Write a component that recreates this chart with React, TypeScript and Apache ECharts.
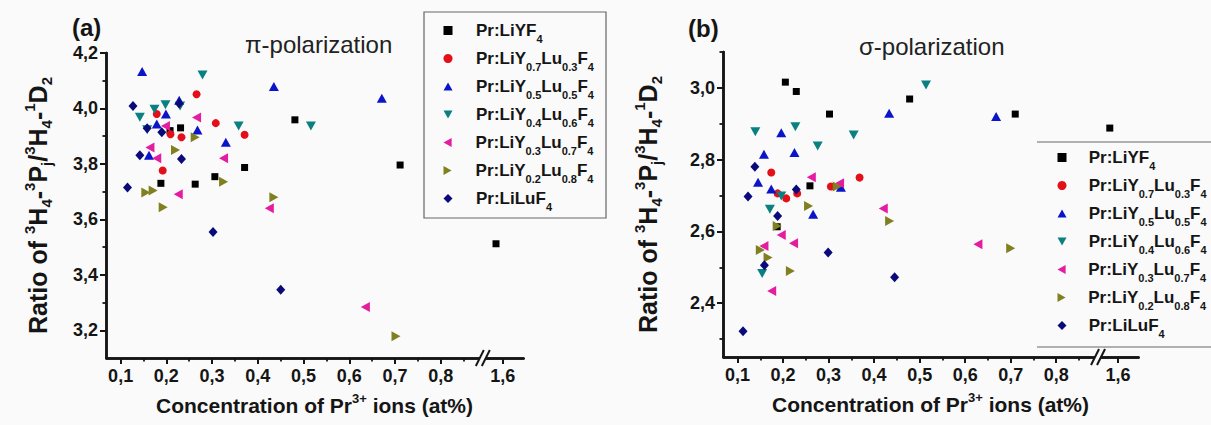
import React, { useEffect, useRef } from "react";
import * as echarts from "echarts";

// ---------- data ----------
const seriesNames = [
  "Pr:LiYF4",
  "Pr:LiY0.7Lu0.3F4",
  "Pr:LiY0.5Lu0.5F4",
  "Pr:LiY0.4Lu0.6F4",
  "Pr:LiY0.3Lu0.7F4",
  "Pr:LiY0.2Lu0.8F4",
  "Pr:LiLuF4",
];

// (a) pi-polarization  [concentration at%, ratio]
const piLiYF4 = [[0.188, 3.73], [0.208, 3.92], [0.231, 3.93], [0.263, 3.727], [0.306, 3.754], [0.371, 3.787], [0.481, 3.959], [0.711, 3.796], [1.585, 3.512]];
const piY07 = [[0.179, 3.98], [0.192, 3.776], [0.209, 3.907], [0.233, 3.896], [0.266, 4.051], [0.308, 3.947], [0.371, 3.905]];
const piY05 = [[0.147, 4.133], [0.162, 3.831], [0.179, 3.944], [0.199, 3.98], [0.228, 4.03], [0.268, 3.922], [0.33, 3.878], [0.435, 4.079], [0.671, 4.037]];
const piY04 = [[0.142, 3.968], [0.158, 3.923], [0.174, 3.997], [0.198, 4.013], [0.23, 4.009], [0.279, 4.121], [0.358, 3.937], [0.516, 3.937]];
const piY03 = [[0.164, 3.859], [0.179, 3.82], [0.198, 3.937], [0.226, 3.691], [0.266, 3.967], [0.325, 3.82], [0.425, 3.64], [0.635, 3.284]];
const piY02 = [[0.155, 3.697], [0.171, 3.704], [0.193, 3.644], [0.22, 3.85], [0.263, 3.896], [0.325, 3.736], [0.435, 3.68], [0.702, 3.178]];
const piLiLuF4 = [[0.115, 3.715], [0.127, 4.009], [0.142, 3.831], [0.158, 3.929], [0.19, 3.914], [0.228, 4.018], [0.233, 3.818], [0.302, 3.554], [0.45, 3.346]];

// (b) sigma-polarization
const sgLiYF4 = [[0.187, 2.613], [0.205, 3.016], [0.229, 2.99], [0.259, 2.727], [0.302, 2.927], [0.478, 2.969], [0.71, 2.927], [1.582, 2.888]];
const sgY07 = [[0.174, 2.764], [0.188, 2.706], [0.207, 2.692], [0.231, 2.706], [0.305, 2.725], [0.368, 2.75]];
const sgY05 = [[0.145, 2.737], [0.158, 2.815], [0.174, 2.718], [0.196, 2.875], [0.225, 2.82], [0.266, 2.648], [0.327, 2.723], [0.433, 2.929], [0.668, 2.92]];
const sgY04 = [[0.139, 2.878], [0.154, 2.483], [0.171, 2.662], [0.196, 2.699], [0.227, 2.892], [0.276, 2.838], [0.355, 2.869], [0.514, 3.008]];
const sgY03 = [[0.158, 2.559], [0.175, 2.434], [0.196, 2.59], [0.223, 2.567], [0.262, 2.751], [0.324, 2.734], [0.42, 2.664], [0.628, 2.564]];
const sgY02 = [[0.15, 2.548], [0.167, 2.527], [0.187, 2.615], [0.216, 2.49], [0.256, 2.671], [0.319, 2.725], [0.434, 2.629], [0.7, 2.553]];
const sgLiLuF4 = [[0.112, 2.322], [0.123, 2.697], [0.138, 2.78], [0.159, 2.506], [0.188, 2.643], [0.229, 2.717], [0.299, 2.541], [0.445, 2.472]];

const piData = [piLiYF4, piY07, piY05, piY04, piY03, piY02, piLiLuF4];
const sgData = [sgLiYF4, sgY07, sgY05, sgY04, sgY03, sgY02, sgLiLuF4];

const xTickValues = [0.1, 0.2, 0.3, 0.4, 0.5, 0.6, 0.7, 0.8, 1.6];
const xMinorValues = [0.15, 0.25, 0.35, 0.45, 0.55, 0.65, 0.75, 0.85];
const yTicksA = [3.2, 3.4, 3.6, 3.8, 4.0, 4.2];
const yMinorA = [3.3, 3.5, 3.7, 3.9, 4.1];
const yTicksB = [2.4, 2.6, 2.8, 3.0];
const yMinorB = [2.3, 2.5, 2.7, 2.9, 3.1];

const X_MIN = 0.068;
const X_MAX = 1.644;
const BREAK_START = 0.885;
const BREAK_END = 1.563;

// ---------- styles ----------
const FONT = "'Liberation Sans', Arial, Helvetica, sans-serif";
const INK = "#151515";
const colors = ["#000000", "#e3101a", "#0a14c8", "#0a8080", "#e41ca0", "#808020", "#0a0a7a"];
const symbols = [
  { symbol: "rect", size: 7 },
  { symbol: "circle", size: 8 },
  { symbol: "path://M5,0L10,9L0,9Z", size: [10, 9] },
  { symbol: "path://M0,0L10,0L5,9Z", size: [10, 9] },
  { symbol: "path://M9,0L9,10L0,5Z", size: [9, 10] },
  { symbol: "path://M0,0L0,10L9,5Z", size: [9, 10] },
  { symbol: "diamond", size: [9, 10] },
];

const legendMarkup: Record<string, string> = {
  "Pr:LiYF4": "{g| }{b|Pr:LiYF}{s|4}",
  "Pr:LiY0.7Lu0.3F4": "{g| }{b|Pr:LiY}{s|0.7}{b|Lu}{s|0.3}{b|F}{s|4}",
  "Pr:LiY0.5Lu0.5F4": "{g| }{b|Pr:LiY}{s|0.5}{b|Lu}{s|0.5}{b|F}{s|4}",
  "Pr:LiY0.4Lu0.6F4": "{g| }{b|Pr:LiY}{s|0.4}{b|Lu}{s|0.6}{b|F}{s|4}",
  "Pr:LiY0.3Lu0.7F4": "{g| }{b|Pr:LiY}{s|0.3}{b|Lu}{s|0.7}{b|F}{s|4}",
  "Pr:LiY0.2Lu0.8F4": "{g| }{b|Pr:LiY}{s|0.2}{b|Lu}{s|0.8}{b|F}{s|4}",
  "Pr:LiLuF4": "{g| }{b|Pr:LiLuF}{s|4}",
};

const yTitle = "{t|Ratio of }{sup|3}{t|H}{sub|4}{t|-}{sup|3}{t|P}{sub|j}{t|/}{sup|3}{t|H}{sub|4}{t|-}{sup|1}{t|D}{sub|2}";
const xTitle = "{t|Concentration of Pr}{sup|3+}{t| ions (at%)}";

const fmt = (v: number) => Number(v).toFixed(1).replace(".", ",");

function legendRich(gap: number) {
  return {
    g: { width: gap, lineHeight: 28 },
    b: { fontSize: 17, fontWeight: "bold", fontFamily: FONT, color: INK, lineHeight: 28 },
    s: { fontSize: 11, fontWeight: "bold", fontFamily: FONT, color: INK, lineHeight: 9, verticalAlign: "bottom" },
  };
}

// one legend component per row, so that the row pitch is exact
function makeLegends(left: number, firstTop: number, gap: number) {
  return seriesNames.map((n, i) => ({
    data: [n],
    orient: "vertical",
    left,
    top: firstTop + 28 * i,
    padding: 0,
    itemGap: 0,
    itemWidth: 9,
    itemHeight: 9,
    selectedMode: false,
    formatter: (name: string) => legendMarkup[name],
    textStyle: { rich: legendRich(gap) },
  }));
}

function makeXAxes(gridIndex: number) {
  const base: any = {
    type: "value",
    gridIndex,
    min: X_MIN,
    max: X_MAX,
    position: "bottom",
    breaks: [{ start: BREAK_START, end: BREAK_END, gap: "1.5%" }],
    breakArea: { show: false },
    splitLine: { show: false },
    axisLine: { show: true, onZero: false, lineStyle: { color: INK, width: 2.5 } },
  };
  return [
    {
      ...base,
      axisTick: { show: true, inside: false, length: 6, customValues: xTickValues, lineStyle: { color: INK, width: 2 } },
      axisLabel: {
        show: true,
        customValues: xTickValues,
        formatter: (v: number) => fmt(v),
        margin: 9,
        fontSize: 18,
        fontWeight: "bold",
        fontFamily: FONT,
        color: INK,
      },
      name: xTitle,
      nameLocation: "middle",
      nameGap: 34,
      nameTextStyle: {
        rich: {
          t: { fontSize: 21, fontWeight: "bold", fontFamily: FONT, color: INK, lineHeight: 26 },
          sup: { fontSize: 13, fontWeight: "bold", fontFamily: FONT, color: INK, lineHeight: 12, verticalAlign: "top" },
        },
      },
    },
    {
      ...base,
      axisTick: { show: true, inside: false, length: 3.5, customValues: xMinorValues, lineStyle: { color: INK, width: 1.8 } },
      axisLabel: { show: false },
    },
  ];
}

function makeYAxes(gridIndex: number, min: number, max: number, ticks: number[], minor: number[], gap: number) {
  const base: any = {
    type: "value",
    gridIndex,
    min,
    max,
    position: "left",
    splitLine: { show: false },
    axisLine: { show: true, onZero: false, lineStyle: { color: INK, width: 2.5 } },
  };
  return [
    {
      ...base,
      axisTick: { show: true, inside: false, length: 6, customValues: ticks, lineStyle: { color: INK, width: 2 } },
      axisLabel: {
        show: true,
        customValues: ticks,
        formatter: (v: number) => fmt(v),
        margin: 8,
        fontSize: 18,
        fontWeight: "bold",
        fontFamily: FONT,
        color: INK,
      },
      name: yTitle,
      nameLocation: "middle",
      nameRotate: 90,
      nameGap: gap,
      nameTextStyle: {
        rich: {
          t: { fontSize: 25, fontWeight: "bold", fontFamily: FONT, color: INK, lineHeight: 32 },
          sup: { fontSize: 15, fontWeight: "bold", fontFamily: FONT, color: INK, lineHeight: 12, verticalAlign: "top" },
          sub: { fontSize: 15, fontWeight: "bold", fontFamily: FONT, color: INK, lineHeight: 12, verticalAlign: "bottom" },
        },
      },
    },
    {
      ...base,
      axisTick: { show: true, inside: false, length: 3.5, customValues: minor, lineStyle: { color: INK, width: 1.8 } },
      axisLabel: { show: false },
    },
  ];
}

function makeSeries(data: number[][][], xAxisIndex: number, yAxisIndex: number) {
  return data.map((d, i) => ({
    type: "scatter",
    name: seriesNames[i],
    xAxisIndex,
    yAxisIndex,
    data: d,
    symbol: symbols[i].symbol,
    symbolSize: symbols[i].size,
    itemStyle: { color: colors[i], opacity: 1 },
    emphasis: { disabled: true },
  }));
}

export default function App() {
  const ref = useRef<HTMLDivElement>(null);

  useEffect(() => {
    if (!ref.current) return;
    const chart = echarts.init(ref.current, null, { renderer: "svg" });

    const option: any = {
      animation: false,
      backgroundColor: "#fafafa",
      textStyle: { fontFamily: FONT },
      grid: [
        { left: 106, top: 53, width: 417, height: 305, outerBoundsMode: "none", containLabel: false },
        { left: 723, top: 52, width: 415, height: 305, outerBoundsMode: "none", containLabel: false },
      ],
      xAxis: [...makeXAxes(0), ...makeXAxes(1)],
      yAxis: [
        ...makeYAxes(0, 3.1, 4.2, yTicksA, yMinorA, 52),
        ...makeYAxes(1, 2.25, 3.1, yTicksB, yMinorB, 59),
      ],
      legend: [...makeLegends(443.5, 22, 18.5), ...makeLegends(1057.5, 149, 17.2)],
      series: [...makeSeries(piData, 0, 0), ...makeSeries(sgData, 2, 2)],
    };
    chart.setOption(option);

    const breakMark = (xAxisIndex: number, yAxisIndex: number, yVal: number, id: string) => {
      const p1 = chart.convertToPixel({ xAxisIndex } as any, BREAK_START) as number;
      const p2 = chart.convertToPixel({ xAxisIndex } as any, BREAK_END) as number;
      const y = chart.convertToPixel({ yAxisIndex } as any, yVal) as number;
      const m = (p1 + p2) / 2;
      return [
        { id: id + "w", type: "rect", z: 100, shape: { x: m - 3, y: y - 2, width: 6, height: 4 }, style: { fill: "#fafafa" } },
        { id: id + "l1", type: "line", z: 101, shape: { x1: m - 7, y1: y + 8, x2: m + 1, y2: y - 8 }, style: { stroke: INK, lineWidth: 2 } },
        { id: id + "l2", type: "line", z: 101, shape: { x1: m - 1, y1: y + 8, x2: m + 7, y2: y - 8 }, style: { stroke: INK, lineWidth: 2 } },
      ];
    };

    const graphics: any[] = [
      { id: "boxA", type: "rect", z: 50, shape: { x: 424, y: 12, width: 182, height: 206 }, style: { fill: "none", stroke: "#666", lineWidth: 1.2 } },
      { id: "lineB1", type: "line", z: 50, shape: { x1: 1037, y1: 142, x2: 1211, y2: 142 }, style: { stroke: "#666", lineWidth: 1.2 } },
      { id: "lineB2", type: "line", z: 50, shape: { x1: 1037, y1: 347, x2: 1211, y2: 347 }, style: { stroke: "#666", lineWidth: 1.2 } },
      { id: "tA", type: "text", z: 50, style: { text: "(a)", x: 72, y: 15, font: `bold 24px ${FONT}`, fill: INK } },
      { id: "tB", type: "text", z: 50, style: { text: "(b)", x: 688, y: 16, font: `bold 24px ${FONT}`, fill: INK } },
      { id: "pA", type: "text", z: 50, style: { text: "π-polarization", x: 245, y: 32, font: `24px ${FONT}`, fill: "#222" } },
      { id: "pB", type: "text", z: 50, style: { text: "σ-polarization", x: 859, y: 34, font: `24px ${FONT}`, fill: "#222" } },
      ...breakMark(0, 0, 3.1, "bkA"),
      ...breakMark(2, 2, 2.25, "bkB"),
    ];
    chart.setOption({ graphic: graphics });

    return () => chart.dispose();
  }, []);

  return <div ref={ref} style={{ position: "absolute", left: 0, top: 0, width: 1211, height: 425 }} />;
}
